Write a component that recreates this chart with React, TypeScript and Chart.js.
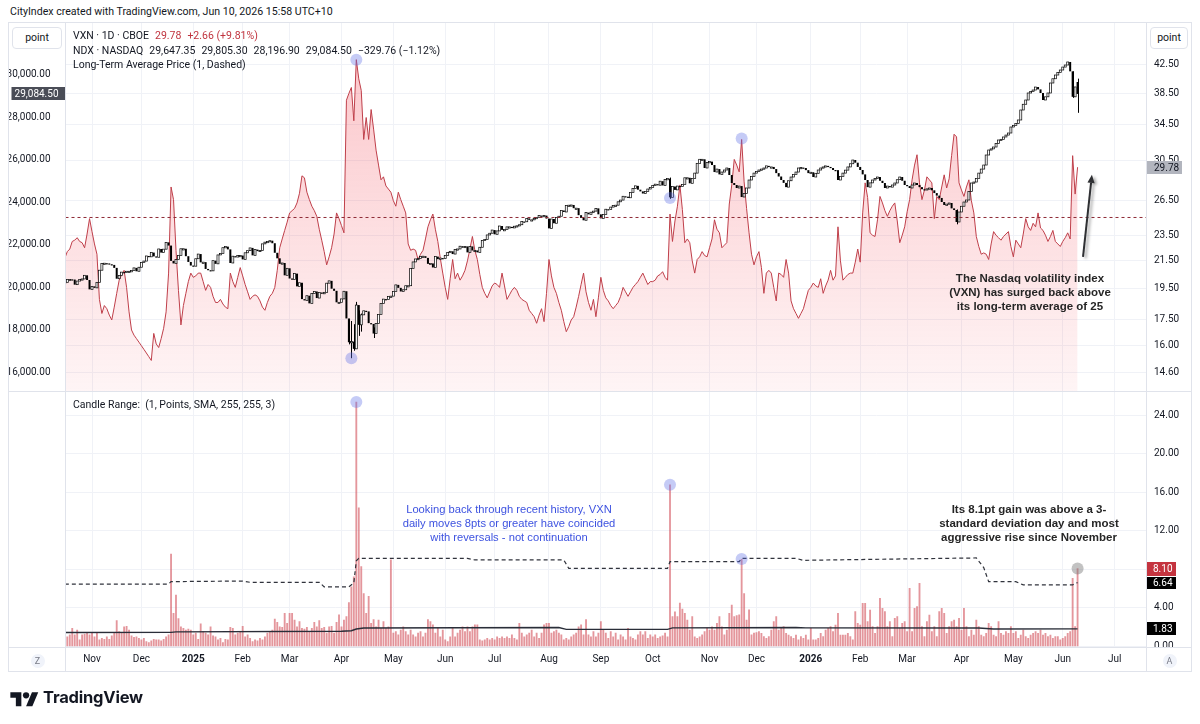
import React, { useEffect, useRef } from "react";
import { Chart, registerables } from "chart.js";
Chart.register(...registerables);

const TVF = "Roboto, 'Liberation Sans', Arial, sans-serif";
const ANF = "'Liberation Sans', Arial, sans-serif";

// ---------------- data ----------------
const monthTickIdx = [11, 31, 52, 72, 91, 112, 133, 154, 174, 196, 217, 238, 261, 280, 302, 322, 341, 363, 384, 404, 425];
const monthTickLabels = ["Nov", "Dec", "2025", "Feb", "Mar", "Apr", "May", "Jun", "Jul", "Aug", "Sep", "Oct", "Nov", "Dec", "2026", "Feb", "Mar", "Apr", "May", "Jun", "Jul"];

// VXN daily close (one value per trading day, 17 Oct 2024 .. 9 Jun 2026)
const vxnClose = [
  21.7, 22.2, 22.4, 23.0, 23.1, 23.3, 23.0, 22.9, 22.5, 23.6,
  24.9, 23.8, 22.8, 22.0, 18.8, 17.9, 18.4, 18.2, 17.8, 17.5,
  18.3, 19.2, 20.1, 20.5, 20.8, 19.6, 18.0, 16.9, 16.6, 16.4,
  16.2, 16.0, 15.8, 15.6, 15.4, 15.2, 16.7, 16.1, 15.9, 16.4,
  17.0, 18.0, 20.6, 27.8, 26.6, 22.3, 19.4, 17.2, 18.4, 19.2,
  20.0, 20.6, 20.3, 20.4, 20.6, 20.6, 20.0, 19.4, 19.8, 19.6,
  19.0, 18.6, 18.6, 18.8, 18.5, 18.3, 18.2, 20.6, 20.0, 19.6,
  20.3, 21.0, 20.4, 19.8, 19.3, 18.8, 19.0, 19.1, 19.0, 18.7,
  18.3, 18.1, 18.6, 19.0, 19.2, 19.6, 20.8, 22.5, 23.2, 23.9,
  24.6, 25.4, 25.6, 25.8, 26.3, 27.2, 28.9, 28.7, 27.3, 26.6,
  26.0, 25.6, 25.1, 24.0, 23.1, 22.2, 21.2, 21.8, 22.5, 23.6,
  25.4, 24.9, 24.3, 23.7, 37.6, 38.5, 39.3, 35.0, 43.3, 40.5,
  38.9, 32.8, 35.4, 32.8, 36.4, 34.0, 31.6, 30.0, 28.5, 28.8,
  27.9, 27.6, 27.3, 26.5, 26.0, 27.3, 26.6, 26.0, 25.4, 22.8,
  22.3, 22.4, 22.3, 21.6, 22.0, 22.3, 23.2, 24.2, 24.8, 25.3,
  24.0, 23.0, 21.7, 20.6, 19.6, 18.8, 20.2, 21.6, 20.2, 20.6,
  20.1, 20.4, 20.8, 21.5, 22.4, 23.4, 22.3, 21.6, 20.5, 19.6,
  19.2, 18.9, 19.3, 19.7, 19.9, 19.8, 19.6, 20.6, 19.7, 18.8,
  19.1, 19.4, 19.6, 19.4, 19.0, 18.8, 18.7, 18.6, 18.1, 17.9,
  17.7, 17.3, 17.8, 18.2, 17.4, 19.2, 21.6, 20.4, 19.6, 19.2,
  18.6, 18.1, 17.4, 16.8, 17.1, 17.5, 17.7, 18.3, 19.0, 19.8,
  20.6, 19.3, 18.6, 18.1, 18.8, 17.7, 18.9, 20.3, 19.4, 18.9,
  18.7, 18.4, 18.2, 18.4, 18.6, 19.0, 19.6, 19.3, 19.0, 19.3,
  19.6, 19.8, 20.0, 20.3, 20.6, 20.2, 19.8, 20.0, 20.0, 20.1,
  20.4, 20.5, 20.7, 20.3, 20.1, 25.3, 23.0, 24.7, 26.0, 28.0,
  25.7, 22.9, 23.2, 22.9, 21.5, 20.6, 21.6, 21.8, 22.2, 21.9,
  21.8, 22.5, 23.2, 24.8, 24.0, 23.7, 22.5, 22.7, 22.9, 26.2,
  28.0, 30.6, 30.0, 29.3, 32.8, 28.3, 25.8, 23.7, 22.0, 21.2,
  21.8, 22.2, 21.0, 19.2, 20.6, 20.8, 20.6, 19.6, 18.7, 20.6,
  20.5, 20.3, 21.6, 20.6, 18.7, 18.2, 17.9, 17.6, 17.9, 18.2,
  18.8, 19.4, 19.6, 19.9, 19.7, 19.6, 20.2, 19.2, 19.7, 20.1,
  20.8, 20.1, 20.4, 24.2, 21.5, 20.1, 20.3, 20.5, 20.6, 20.6,
  21.4, 22.4, 21.4, 25.4, 28.2, 26.8, 23.7, 23.5, 23.4, 24.8,
  26.9, 26.3, 25.6, 25.1, 25.6, 26.0, 26.3, 24.7, 22.9, 23.5,
  24.2, 25.5, 26.6, 28.5, 30.0, 31.1, 28.2, 26.6, 27.5, 28.8,
  28.5, 28.2, 24.9, 26.9, 26.6, 27.8, 29.0, 27.7, 28.6, 31.0,
  33.4, 33.1, 28.2, 27.5, 26.9, 27.8, 28.5, 26.5, 25.4, 23.4,
  22.6, 22.0, 22.1, 22.0, 21.6, 22.8, 23.8, 23.5, 23.3, 23.1,
  23.4, 23.6, 23.8, 22.6, 21.8, 23.1, 22.8, 22.5, 23.6, 24.9,
  24.2, 23.9, 24.5, 24.2, 25.4, 24.1, 23.9, 23.5, 23.0, 23.4,
  23.9, 23.0, 22.8, 22.6, 23.0, 23.3, 23.7, 23.2, 31.0, 27.12,
  29.78,
];

// NDX daily close
const ndxClose = [
  20220, 20360, 20360, 20350, 20110, 20280, 20350, 20380, 20550, 20330,
  19890, 20030, 19960, 20220, 20790, 21100, 21120, 21110, 21070, 21040,
  20900, 20390, 20540, 20700, 20680, 20740, 20740, 20770, 20900, 20740,
  20930, 21160, 21220, 21460, 21420, 21620, 21440, 21400, 21790, 21620,
  21780, 22100, 21950, 21230, 21110, 21290, 21490, 21800, 21800, 21450,
  21180, 21010, 20980, 21330, 21550, 21160, 21170, 20850, 20790, 20760,
  21240, 21090, 21510, 21570, 21850, 21900, 21770, 21130, 21450, 21410,
  21480, 21480, 21300, 21610, 21710, 21840, 21490, 21760, 21690, 21720,
  22030, 22110, 22140, 22180, 22060, 21610, 21350, 21090, 21130, 20550,
  20880, 20400, 20350, 20630, 20030, 20200, 19430, 19370, 19590, 19230,
  19700, 19790, 19480, 19740, 19680, 19750, 20180, 20290, 19920, 19820,
  19280, 19280, 19440, 19800, 18520, 17400, 17430, 17090, 19150, 18220,
  18690, 18880, 18850, 18300, 18260, 17810, 18280, 18710, 19220, 19430,
  19410, 19550, 19570, 19790, 20100, 19960, 19790, 19870, 20060, 20060,
  20870, 21180, 21320, 21340, 21430, 21450, 21370, 21090, 21110, 20920,
  21430, 21310, 21360, 21340, 21490, 21630, 21680, 21550, 21760, 21790,
  21920, 21850, 21910, 21630, 21910, 21720, 21720, 21630, 21870, 22190,
  22240, 22450, 22530, 22680, 22480, 22640, 22870, 22690, 22700, 22830,
  22830, 22780, 22860, 22880, 22930, 23080, 23070, 23230, 23160, 23160,
  23230, 23270, 23360, 23310, 23360, 23220, 22760, 23200, 23000, 23270,
  23330, 23600, 23530, 23840, 23850, 23860, 23710, 23710, 23380, 23250,
  23140, 23500, 23420, 23520, 23570, 23700, 23420, 23230, 23410, 23660,
  23650, 23760, 23840, 23850, 24010, 24090, 24270, 24250, 24200, 24450,
  24630, 24760, 24580, 24500, 24400, 24500, 24610, 24680, 24780, 24840,
  24790, 24980, 24780, 25060, 25100, 24220, 24730, 24570, 24750, 24730,
  24820, 25140, 25140, 24880, 25100, 25360, 25820, 26010, 26010, 25600,
  25860, 25900, 25740, 25410, 25550, 25300, 25410, 25506, 25600, 25270,
  24894, 24800, 24659, 24750, 24235, 24400, 24659, 25035, 25200, 25360,
  25430, 25506, 25550, 25600, 25700, 25650, 25650, 25550, 25360, 25200,
  25035, 24900, 24700, 25000, 25176, 25300, 25410, 25600, 25620, 25600,
  25500, 25360, 25400, 25176, 25350, 25506, 25600, 25650, 25700, 25650,
  25600, 25506, 25500, 25035, 25200, 25360, 25500, 25650, 25800, 25976,
  25850, 25650, 25506, 25300, 25035, 24700, 24900, 25035, 25100, 25176,
  25000, 24894, 24659, 24750, 24700, 24800, 24894, 25050, 25176, 25000,
  24800, 24750, 24659, 24800, 24894, 24800, 24700, 24600, 24565, 24620,
  24659, 24550, 24420, 24300, 24190, 24000, 23860, 23900, 23953, 23700,
  23623, 23060, 23530, 23800, 24000, 24094, 24500, 24894, 24940, 25100,
  25360, 25550, 25740, 26212, 26447, 26500, 26588, 26750, 26918, 26950,
  27060, 27150, 27247, 27530, 27600, 27700, 27860, 28330, 28600, 28800,
  29130, 29200, 29270, 29410, 29300, 29130, 28800, 28950, 29130, 29600,
  29800, 29976, 30100, 30212, 30350, 30447, 30590, 30150, 28950, 29414.26,
  29084.5,
];
// last NDX bar: open, high, low, close
const ndxLastBar = [29647.35, 29805.3, 28196.9, 29084.5];
// notable NDX wicks: bar, high, low
const ndxWicks = [
  [115, 18500, 17300], [116, 18400, 16650], [117, 18250, 17000], [118, 19300, 17100],
  [119, 18900, 17700], [120, 18750, 17900], [125, 18100, 17600], [245, 25150, 24150],
  [361, 23650, 22950], [408, 30150, 28900],
];

// Candle Range indicator (VXN daily range, points)
const candleRange = [
  1.3, 1.0, 1.2, 1.9, 1.2, 1.7, 0.7, 1.2, 1.3, 1.4,
  1.2, 1.4, 1.0, 1.45, 0.7, 0.85, 0.75, 1.0, 0.75, 1.1,
  1.4, 2.7, 1.55, 1.4, 2.05, 2.1, 1.7, 1.1, 0.95, 1.0,
  0.85, 0.7, 0.85, 0.5, 0.4, 0.6, 0.75, 0.7, 0.7, 0.6,
  0.75, 1.0, 1.2, 9.6, 3.45, 5.35, 2.9, 2.05, 1.9, 1.7,
  1.8, 1.7, 1.2, 1.4, 0.75, 2.35, 1.55, 1.4, 1.2, 2.05,
  1.1, 1.0, 0.7, 0.85, 0.4, 0.75, 0.7, 2.0, 1.9, 1.2,
  1.4, 1.55, 2.1, 1.0, 1.2, 0.85, 0.5, 0.7, 0.6, 0.85,
  0.7, 1.0, 1.4, 1.55, 1.7, 2.85, 2.5, 2.05, 2.0, 3.45,
  2.4, 3.45, 3.45, 2.75, 2.05, 2.6, 1.9, 1.8, 2.0, 1.55,
  1.9, 2.5, 2.05, 2.7, 1.9, 2.0, 1.4, 2.05, 2.1, 1.4,
  2.5, 3.3, 2.05, 2.75, 3.1, 4.55, 6.2, 7.25, 25.4, 14.4,
  8.3, 5.5, 3.45, 5.2, 2.4, 2.8, 2.05, 2.75, 1.9, 2.6,
  1.9, 2.05, 9.0, 1.4, 1.55, 1.2, 1.7, 2.05, 1.55, 1.2,
  1.7, 1.2, 1.0, 1.4, 1.55, 1.0, 1.4, 2.8, 2.6, 2.25,
  1.4, 1.9, 1.0, 1.7, 0.7, 0.5, 1.0, 1.9, 1.0, 1.4,
  1.7, 2.05, 1.55, 2.05, 1.55, 2.05, 2.25, 2.25, 0.7, 0.6,
  0.7, 0.85, 0.7, 0.85, 0.7, 1.0, 0.85, 1.0, 0.85, 1.0,
  0.85, 1.2, 0.85, 0.7, 2.4, 1.4, 1.0, 1.2, 1.4, 1.7,
  1.0, 1.4, 0.85, 1.4, 2.25, 2.4, 2.4, 1.4, 1.55, 1.7,
  1.4, 1.2, 0.7, 0.85, 0.7, 1.0, 1.2, 1.4, 2.05, 2.25,
  1.2, 2.8, 1.2, 1.0, 1.55, 1.0, 1.4, 2.6, 1.7, 1.4,
  0.85, 1.55, 1.0, 1.4, 0.7, 1.2, 1.0, 0.7, 1.9, 1.0,
  0.85, 0.7, 1.2, 1.55, 1.2, 1.55, 0.85, 1.2, 1.0, 1.2,
  0.85, 1.0, 1.1, 1.4, 1.0, 16.8, 3.1, 3.6, 3.1, 4.5,
  3.9, 3.45, 2.75, 1.7, 3.1, 1.0, 0.85, 1.0, 1.2, 1.55,
  1.9, 1.7, 2.05, 1.7, 2.4, 3.1, 2.05, 1.2, 1.7, 3.45,
  4.3, 3.1, 3.2, 3.3, 9.05, 5.5, 2.75, 3.8, 1.2, 1.4,
  1.45, 1.54, 1.37, 1.02, 0.85, 1.02, 1.71, 2.58, 3.1, 1.71,
  1.89, 2.06, 1.37, 1.19, 1.02, 0.85, 1.19, 0.68, 1.02, 0.85,
  1.19, 0.68, 1.89, 0.68, 0.68, 0.85, 1.37, 1.02, 1.71, 1.89,
  2.06, 1.54, 2.23, 3.45, 1.19, 1.19, 1.19, 1.37, 1.02, 0.68,
  3.62, 2.41, 2.23, 4.48, 4.48, 2.58, 3.79, 2.06, 1.37, 2.06,
  5.0, 3.97, 3.62, 2.06, 2.58, 1.02, 2.93, 3.1, 1.89, 2.41,
  2.58, 1.54, 6.04, 1.54, 3.97, 4.14, 6.56, 2.06, 1.02, 2.58,
  3.27, 1.54, 2.06, 1.02, 3.62, 3.97, 3.45, 1.37, 2.06, 2.58,
  2.75, 2.06, 2.93, 1.71, 3.97, 2.06, 1.02, 1.71, 1.19, 2.75,
  2.06, 1.19, 1.02, 1.37, 2.41, 2.06, 1.19, 1.02, 2.58, 1.37,
  1.19, 1.54, 1.37, 2.06, 1.37, 1.54, 0.85, 1.19, 1.71, 1.02,
  0.85, 1.19, 1.37, 1.54, 1.37, 1.71, 1.19, 1.37, 1.02, 1.19,
  0.85, 1.02, 1.02, 0.68, 0.85, 1.02, 1.37, 1.54, 7.08, 2.06,
  8.1,
];
// 255-day SMA of the range (read at turning points)
const smaIdx = [0, 43, 45, 112, 116, 118, 121, 200, 203, 244, 246, 296, 300, 370, 376, 410];
const smaVal = [1.45, 1.47, 1.52, 1.58, 1.64, 1.82, 1.92, 1.97, 1.78, 1.78, 1.93, 1.97, 1.93, 1.92, 1.82, 1.83];
// SMA + 3 standard deviations (dashed)
const bandIdx = [0, 42, 43, 72, 75, 103, 105, 115, 117, 118, 119, 163, 166, 202, 204, 244, 245, 273, 274, 296, 299, 340, 369, 372, 374, 385, 388, 408, 409, 410];
const bandVal = [6.49, 6.49, 6.74, 6.8, 6.67, 6.67, 6.2, 6.2, 6.6, 8.9, 9.16, 9.16, 8.99, 8.99, 8.12, 8.12, 8.81, 8.81, 9.16, 9.16, 8.95, 9.1, 9.2, 8.2, 6.74, 6.74, 6.4, 6.4, 6.55, 6.64];

const vxnLongTermAverage = 25;
const ndxTicks = [16000, 18000, 20000, 22000, 24000, 26000, 28000, 30000];
const vxnTicks = [14.6, 16, 17.5, 19.5, 21.5, 23.5, 26.5, 30.5, 34.5, 38.5, 42.5];
const rangeTicks = [0, 4, 8, 12, 16, 20, 24];

// highlighted points (bar, value)
const vxnMarks = [[118, 43.3], [274, 32.9]];
const ndxMarks = [[116, 16650], [245, 24190]];
const rangeMarks = [[118, 25.4], [245, 16.8], [274, 9.1]];
const rangeLastMark = [[410, 8.1]];
// arrow drawing (bar, VXN value) from -> to
const arrowPath = [[412.2, 21.8], [415.8, 29.0]];

// visible window
const X_MIN = 0.27, X_MAX = 437.9;
const NDX_MIN = 15059, NDX_MAX = 32471;
const VXN_MIN = 13.62, VXN_MAX = 49.36;
const RANGE_MIN = -0.156, RANGE_MAX = 26.44;

// ---------------- helpers ----------------
const fmt2 = (v: number) => v.toLocaleString("en-US", { minimumFractionDigits: 2, maximumFractionDigits: 2 });
const signed = (v: number) => (v < 0 ? "\u2212" : "+") + fmt2(Math.abs(v));
const GRID = "#f0f2f7";
const MARK = "rgba(95,110,230,0.36)";

function drawTag(ctx: CanvasRenderingContext2D, x: number, yc: number, w: number, h: number, bg: string, fg: string, text: string, tx: number, align: CanvasTextAlign) {
  ctx.fillStyle = bg;
  ctx.fillRect(x, Math.round(yc - h / 2), w, h);
  ctx.fillStyle = fg;
  ctx.font = `10px ${TVF}`;
  ctx.textBaseline = "middle";
  ctx.textAlign = align;
  ctx.fillText(text, tx, Math.round(yc - h / 2) + h / 2 + 0.5);
}

const xy = (arr: number[][]) => arr.map(([x, y]) => ({ x, y }));
const fitY = (w: number) => (s: any) => { s.width = w; s.paddingTop = 0; s.paddingBottom = 0; };

function buildTop(canvas: HTMLCanvasElement) {
  const candlePlugin = {
    id: "ndxCandles",
    afterDatasetDraw(chart: any, args: any) {
      if (chart.data.datasets[args.index].label !== "VXN") return;
      const { ctx, chartArea: ca } = chart;
      const xs = chart.scales.x, ys = chart.scales.yL;
      ctx.save();
      ctx.beginPath();
      ctx.rect(ca.left, ca.top, ca.width, ca.height);
      ctx.clip();
      const n = ndxClose.length;
      ctx.strokeStyle = "#000";
      ctx.lineWidth = 1;
      const wicks = [...ndxWicks, [n - 1, ndxLastBar[1], ndxLastBar[2]]];
      for (const [i, hi, lo] of wicks) {
        const cx = Math.round(xs.getPixelForValue(i)) + 0.5;
        ctx.beginPath();
        ctx.moveTo(cx, ys.getPixelForValue(hi));
        ctx.lineTo(cx, ys.getPixelForValue(lo));
        ctx.stroke();
      }
      for (let i = 0; i < n; i++) {
        const c = ndxClose[i];
        const o = i === n - 1 ? ndxLastBar[0] : i === 0 ? c : ndxClose[i - 1];
        const cx = xs.getPixelForValue(i);
        const y1 = ys.getPixelForValue(o), y2 = ys.getPixelForValue(c);
        const top = Math.min(y1, y2);
        const h = Math.max(1.2, Math.abs(y1 - y2));
        if (c >= o) {
          ctx.fillStyle = "#fff";
          ctx.fillRect(cx - 1, top, 2, h);
          ctx.lineWidth = 0.7;
          ctx.strokeStyle = "#000";
          ctx.strokeRect(cx - 1, top, 2, h);
        } else {
          ctx.fillStyle = "#000";
          ctx.fillRect(cx - 1, top, 2, h);
        }
      }
      ctx.restore();
    },
  };
  const overlayPlugin = {
    id: "topOverlay",
    afterDraw(chart: any) {
      const { ctx, chartArea: ca, scales } = chart;
      const { x, yL, yR } = scales;
      // arrow
      const [[i1, v1], [i2, v2]] = arrowPath;
      const x1 = x.getPixelForValue(i1), y1 = yR.getPixelForValue(v1);
      const x2 = x.getPixelForValue(i2), y2 = yR.getPixelForValue(v2);
      const ang = Math.atan2(y2 - y1, x2 - x1);
      const L = 8, W = 3.6;
      const bx = x2 - L * Math.cos(ang), by = y2 - L * Math.sin(ang);
      ctx.save();
      ctx.shadowColor = "rgba(0,0,0,0.35)";
      ctx.shadowBlur = 3;
      ctx.shadowOffsetX = 2.5;
      ctx.shadowOffsetY = 1.5;
      ctx.strokeStyle = "#2f3033";
      ctx.fillStyle = "#2f3033";
      ctx.lineWidth = 2;
      ctx.beginPath();
      ctx.moveTo(x1, y1);
      ctx.lineTo(bx, by);
      ctx.stroke();
      ctx.beginPath();
      ctx.moveTo(x2, y2);
      ctx.lineTo(bx + W * Math.sin(ang), by - W * Math.cos(ang));
      ctx.lineTo(bx - W * Math.sin(ang), by + W * Math.cos(ang));
      ctx.closePath();
      ctx.fill();
      ctx.restore();
      // axis tags
      ctx.save();
      const ndxLast = ndxClose[ndxClose.length - 1];
      drawTag(ctx, 3.5, yL.getPixelForValue(ndxLast), ca.left - 3.5, 13, "#4a4d57", "#ffffff", fmt2(ndxLast), ca.left - 7, "right");
      const vxnLast = vxnClose[vxnClose.length - 1];
      drawTag(ctx, ca.right + 0.5, yR.getPixelForValue(vxnLast), 35, 13, "#b2b5be", "#131722", vxnLast.toFixed(2), ca.right + 7.5, "left");
      ctx.restore();
    },
  };
  const vxnFill = (c: any) => {
    const chart = c.chart;
    const ca = chart.chartArea;
    if (!ca) return "rgba(242,54,69,0.15)";
    const g = chart.ctx.createLinearGradient(0, ca.top, 0, ca.bottom);
    g.addColorStop(0, "rgba(242,54,69,0.30)");
    g.addColorStop(1, "rgba(242,54,69,0.05)");
    return g;
  };
  return new Chart(canvas, {
    type: "line",
    data: {
      datasets: [
        { type: "scatter", label: "vxnMarks", data: xy(vxnMarks), yAxisID: "yR", pointRadius: 6, pointHoverRadius: 6, pointBorderWidth: 0, pointBackgroundColor: MARK, order: 0 } as any,
        { type: "scatter", label: "ndxMarks", data: xy(ndxMarks), yAxisID: "yL", pointRadius: 6, pointHoverRadius: 6, pointBorderWidth: 0, pointBackgroundColor: MARK, order: 0 } as any,
        { type: "line", label: "avg", data: [{ x: X_MIN, y: vxnLongTermAverage }, { x: X_MAX, y: vxnLongTermAverage }], yAxisID: "yR", borderColor: "#8e2a36", borderWidth: 1, borderDash: [3, 3], pointRadius: 0, fill: false, order: 1 } as any,
        { type: "line", label: "VXN", data: vxnClose.map((y, x) => ({ x, y })), yAxisID: "yR", borderColor: "#bf3f4a", borderWidth: 1, pointRadius: 0, tension: 0, fill: "start", backgroundColor: vxnFill, order: 2 } as any,
      ],
    },
    options: {
      animation: false,
      responsive: false,
      events: [],
      layout: { padding: 0, autoPadding: false },
      plugins: { legend: { display: false }, tooltip: { enabled: false } },
      scales: {
        x: {
          type: "linear", min: X_MIN, max: X_MAX, offset: false,
          afterBuildTicks: (s: any) => { s.ticks = monthTickIdx.map((v) => ({ value: v })); },
          ticks: { display: false },
          grid: { color: GRID, drawTicks: false, offset: false },
          border: { display: false },
          afterFit: (s: any) => { s.height = 0; s.paddingLeft = 0; s.paddingRight = 0; },
        },
        yL: {
          type: "linear", position: "left", min: NDX_MIN, max: NDX_MAX,
          afterBuildTicks: (s: any) => { s.ticks = ndxTicks.map((v) => ({ value: v })); },
          ticks: { callback: (v: any) => fmt2(Number(v)), padding: 7, color: "#131722", font: { size: 10, family: TVF } },
          grid: { display: false },
          border: { display: false },
          afterFit: fitY(57.5),
        },
        yR: {
          type: "logarithmic", position: "right", min: VXN_MIN, max: VXN_MAX,
          afterBuildTicks: (s: any) => { s.ticks = vxnTicks.map((v) => ({ value: v })); },
          ticks: { callback: (v: any) => Number(v).toFixed(2), padding: 7.5, color: "#131722", font: { size: 10, family: TVF } },
          grid: { color: GRID, drawTicks: false },
          border: { display: false },
          afterFit: fitY(45.5),
        },
      },
    } as any,
    plugins: [candlePlugin, overlayPlugin],
  });
}

function buildBottom(canvas: HTMLCanvasElement) {
  const overlayPlugin = {
    id: "bottomOverlay",
    afterDraw(chart: any) {
      const { ctx, chartArea: ca, scales } = chart;
      const y = scales.y;
      ctx.save();
      ctx.fillStyle = "#ffffff";
      ctx.fillRect(ca.right + 0.5, ca.bottom, chart.width - ca.right, chart.height - ca.bottom);
      const rLast = candleRange[candleRange.length - 1];
      const bLast = bandVal[bandVal.length - 1];
      const sLast = smaVal[smaVal.length - 1];
      drawTag(ctx, ca.right + 0.5, y.getPixelForValue(sLast), 29, 13, "#000000", "#ffffff", sLast.toFixed(2), ca.right + 6.5, "left");
      drawTag(ctx, ca.right + 0.5, y.getPixelForValue(bLast), 29, 12, "#000000", "#ffffff", bLast.toFixed(2), ca.right + 6.5, "left");
      drawTag(ctx, ca.right + 0.5, y.getPixelForValue(rLast), 29, 14, "#c4343f", "#ffffff", rLast.toFixed(2), ca.right + 6.5, "left");
      ctx.restore();
    },
  };
  return new Chart(canvas, {
    type: "line",
    data: {
      datasets: [
        { type: "scatter", label: "marks", data: xy(rangeMarks), pointRadius: 6, pointHoverRadius: 6, pointBorderWidth: 0, pointBackgroundColor: MARK, order: 0 } as any,
        { type: "scatter", label: "lastMark", data: xy(rangeLastMark), pointRadius: 6, pointHoverRadius: 6, pointBorderWidth: 0, pointBackgroundColor: "rgba(120,120,120,0.45)", order: 0 } as any,
        { type: "line", label: "band", data: bandIdx.map((x, i) => ({ x, y: bandVal[i] })), borderColor: "#30333c", borderWidth: 1.2, borderDash: [4, 3], pointRadius: 0, fill: false, order: 1 } as any,
        { type: "line", label: "sma", data: smaIdx.map((x, i) => ({ x, y: smaVal[i] })), borderColor: "#2a2e39", borderWidth: 1.4, pointRadius: 0, fill: false, order: 1 } as any,
        { type: "bar", label: "range", data: candleRange.map((y, x) => ({ x, y })), backgroundColor: "rgba(212,86,96,0.62)", barThickness: 1.2, grouped: false, order: 2 } as any,
      ],
    },
    options: {
      animation: false,
      responsive: false,
      events: [],
      layout: { padding: { left: 57.5, top: 0, right: 0, bottom: 0 }, autoPadding: false },
      plugins: { legend: { display: false }, tooltip: { enabled: false } },
      scales: {
        x: {
          type: "linear", min: X_MIN, max: X_MAX, offset: false,
          afterBuildTicks: (s: any) => { s.ticks = monthTickIdx.map((v) => ({ value: v })); },
          ticks: {
            autoSkip: false, maxRotation: 0, minRotation: 0, padding: 5, color: "#131722",
            callback: (v: any) => monthTickLabels[monthTickIdx.indexOf(Number(v))],
            font: (c: any) => ({ size: 10, family: TVF, weight: /^\d{4}$/.test(monthTickLabels[c.index] || "") ? "bold" : "normal" }),
          },
          grid: { color: GRID, drawTicks: false, offset: false },
          border: { display: false },
          afterFit: (s: any) => { s.height = 24; s.paddingLeft = 0; s.paddingRight = 0; },
        },
        y: {
          type: "linear", position: "right", min: RANGE_MIN, max: RANGE_MAX,
          afterBuildTicks: (s: any) => { s.ticks = rangeTicks.map((v) => ({ value: v })); },
          ticks: { callback: (v: any) => Number(v).toFixed(2), padding: 7.5, color: "#131722", font: { size: 10, family: TVF } },
          grid: { color: GRID, drawTicks: false },
          border: { display: false },
          afterFit: fitY(45.5),
        },
      },
    } as any,
    plugins: [overlayPlugin],
  });
}

const abs = (l: number, t: number, w: number, h: number, extra: React.CSSProperties = {}): React.CSSProperties => ({ position: "absolute", left: l, top: t, width: w, height: h, ...extra });
const LINE = "#e0e3eb";

function Note({ cx, top, lines, color, bold, size }: { cx: number; top: number; lines: string[]; color: string; bold: boolean; size: number }) {
  return (
    <div style={{ position: "absolute", left: cx - 160, top, width: 320, textAlign: "center", fontFamily: ANF, fontSize: size, fontWeight: bold ? 700 : 400, lineHeight: "14px", color, whiteSpace: "pre" }}>
      {lines.map((l, i) => (<div key={i}>{l}</div>))}
    </div>
  );
}

export default function App() {
  const refA = useRef<HTMLCanvasElement>(null);
  const refB = useRef<HTMLCanvasElement>(null);
  useEffect(() => {
    const a = buildTop(refA.current!);
    const b = buildBottom(refB.current!);
    return () => { a.destroy(); b.destroy(); };
  }, []);

  const vLast = vxnClose[vxnClose.length - 1];
  const vPrev = vxnClose[vxnClose.length - 2];
  const vChg = vLast - vPrev;
  const nPrev = ndxClose[ndxClose.length - 2];
  const nChg = ndxLastBar[3] - nPrev;
  const red = "#c0343f";
  const gap = { marginLeft: 6 };

  return (
    <div style={{ position: "absolute", left: 0, top: 0, width: 1200, height: 724, background: "#fff", overflow: "hidden", fontFamily: TVF, color: "#131722" }}>
      <div style={{ position: "absolute", left: 10, top: 4, fontSize: 10.6, lineHeight: "16px", whiteSpace: "nowrap" }}>CityIndex created with TradingView.com, Jun 10, 2026 15:58 UTC+10</div>

      <canvas ref={refA} width={1184} height={370} style={abs(8, 22, 1184, 370)} />
      <canvas ref={refB} width={1184} height={280} style={abs(8, 392, 1184, 280)} />

      {/* frame */}
      <div style={abs(8, 22, 1184, 650, { border: `1px solid ${LINE}`, boxSizing: "border-box" })} />
      <div style={abs(65, 22, 1, 650, { background: LINE })} />
      <div style={abs(1146, 22, 1, 650, { background: LINE })} />
      <div style={abs(8, 391, 1184, 1, { background: LINE })} />
      <div style={abs(8, 647, 1184, 1, { background: LINE })} />

      {/* scale mode boxes */}
      <div style={abs(12, 27, 50, 22, { border: `1px solid ${LINE}`, borderRadius: 4, boxSizing: "border-box", background: "#fff", fontSize: 10.5, lineHeight: "20px", textAlign: "center" })}>point</div>
      <div style={abs(1150, 27, 38, 22, { border: `1px solid ${LINE}`, borderRadius: 4, boxSizing: "border-box", background: "#fff", fontSize: 10.5, lineHeight: "20px", textAlign: "center" })}>point</div>

      {/* legends */}
      <div style={{ position: "absolute", left: 73, top: 29, fontSize: 10.5, lineHeight: "14px", whiteSpace: "nowrap" }}>
        VXN · 1D · CBOE<span style={{ ...gap, color: red }}>{vLast.toFixed(2)}</span><span style={{ ...gap, color: red }}>{signed(vChg)} ({signed((vChg / vPrev) * 100)}%)</span>
      </div>
      <div style={{ position: "absolute", left: 73, top: 44, fontSize: 10.5, lineHeight: "14px", whiteSpace: "nowrap" }}>
        NDX · NASDAQ
        {ndxLastBar.map((v, i) => (<span key={i} style={gap}>{fmt2(v)}</span>))}
        <span style={gap}>{signed(nChg)} ({signed((nChg / nPrev) * 100)}%)</span>
      </div>
      <div style={{ position: "absolute", left: 73, top: 58, fontSize: 10.5, lineHeight: "14px", whiteSpace: "nowrap" }}>Long-Term Average Price (1, Dashed)</div>
      <div style={{ position: "absolute", left: 73, top: 398, fontSize: 10.5, lineHeight: "14px", whiteSpace: "pre" }}>Candle Range:  (1, Points, SMA, 255, 255, 3)</div>

      {/* annotations */}
      <Note cx={1030} top={271} bold size={11.5} color="#262626" lines={["The Nasdaq volatility index", "(VXN) has surged back above", "its long-term average of 25"]} />
      <Note cx={1029} top={502} bold size={11.5} color="#262626" lines={["Its 8.1pt gain was above a 3-", "standard deviation day and most", "aggressive rise since November"]} />
      <Note cx={509} top={502} bold={false} size={11.2} color="#3d52e0" lines={["Looking back through recent history, VXN", "daily moves 8pts or greater have coincided", "with reversals - not continuation"]} />

      {/* Z / A buttons */}
      <div style={abs(30.5, 653.5, 14, 14, { borderRadius: 7, background: "#f0f3fa", fontSize: 9, lineHeight: "14px", textAlign: "center", color: "#787b86" })}>Z</div>
      <div style={abs(1162.5, 653.5, 14, 14, { borderRadius: 7, background: "#f0f3fa", fontSize: 9, lineHeight: "14px", textAlign: "center", color: "#787b86" })}>A</div>

      {/* TradingView logo */}
      <svg style={{ position: "absolute", left: 10, top: 688.5 }} width={29} height={22} viewBox="0 0 36 28">
        <path d="M14 22H7V11H0V4h14v18zM28 22h-8l7.5-18h8L28 22z" fill="#131722" />
        <circle cx="20" cy="8" r="4" fill="#131722" />
      </svg>
      <div style={{ position: "absolute", left: 43, top: 688, fontFamily: "Inter, Roboto, sans-serif", fontWeight: 700, fontSize: 16.5, lineHeight: "18px", color: "#131722", letterSpacing: -0.2 }}>TradingView</div>
    </div>
  );
}
